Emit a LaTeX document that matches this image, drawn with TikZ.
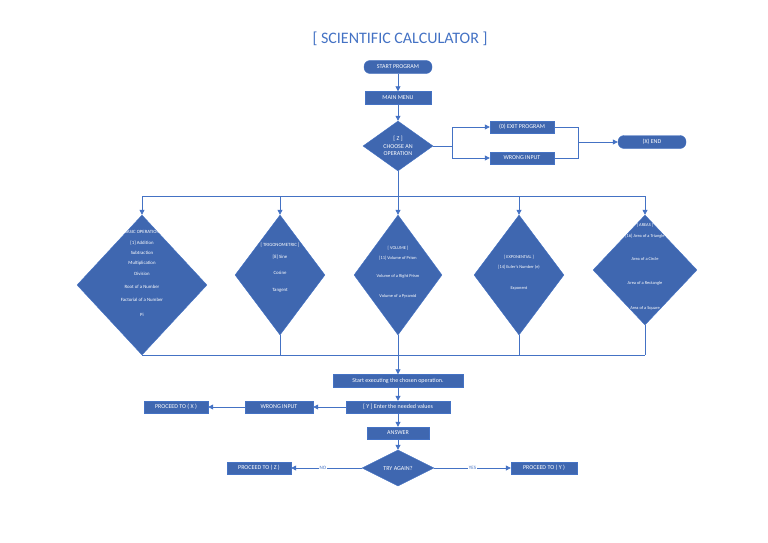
\documentclass[tikz,border=0pt]{standalone}
\usepackage{fontspec}
\setmainfont{Carlito}
\usetikzlibrary{shapes.geometric,arrows.meta}
\definecolor{ln}{HTML}{4472C4}
\definecolor{fl}{HTML}{3F67B0}
\begin{document}
\begin{tikzpicture}[x=1pt,y=-1pt,
 box/.style={draw=ln,fill=fl,text=white,minimum height=12pt,inner sep=0pt,font=\fontsize{6}{7}\selectfont},
 pill/.style={box,rounded corners=6pt},
 dia/.style={diamond,draw=ln,fill=fl,text=white,inner sep=0pt,align=center,font=\fontsize{4.6}{5.8}\selectfont},
 ar/.style={draw=ln,line width=0.8pt,-{Triangle[length=5pt,width=5pt]}},
 ln/.style={draw=ln,line width=0.8pt}]
\useasboundingbox (0,0) rectangle (768,543);
\node[text=ln,font=\fontsize{16}{18}\selectfont] (title) at (400,39) {[ SCIENTIFIC CALCULATOR ]};
\node[pill,minimum width=68pt,minimum height=13pt] (start) at (398,67) {START PROGRAM};
\node[box,minimum width=66pt,minimum height=13pt] (menu) at (398,98) {MAIN MENU};
\node[dia,minimum width=70pt,minimum height=50pt,font=\fontsize{6}{7.5}\selectfont] (z) at (398,146) {};
\node[text=white,align=center,font=\fontsize{6}{7.5}\selectfont] at (398,146) {[ Z ]\\CHOOSE AN\\OPERATION};
\node[box,minimum width=64pt] (exit) at (522,127) {(0) EXIT PROGRAM};
\node[box,minimum width=64pt] (wi1) at (522,158) {WRONG INPUT};
\node[pill,minimum width=68pt,minimum height=13pt] (end) at (652,142) {(X) END};
\draw[ar] (start) -- (menu);
\draw[ar] (menu) -- (z);
\coordinate (s1) at (452,146);
\draw[ln] (z.east) -- (s1);
\draw[ar] (s1) |- (exit.west);
\draw[ar] (s1) |- (wi1.west);
\coordinate (j1) at (578,142);
\draw[ln] (exit.east) -| (j1);
\draw[ln] (wi1.east) -| (j1);
\draw[ar] (j1) -- (end.west);
% diamonds
\node[dia,minimum width=130pt,minimum height=140pt] (d1) at (142,285) {};
\node[text=white,align=center,font=\fontsize{4.8}{7.4}\selectfont] at (142,273) {[ BASIC OPERATION ]\\[4pt][1] Addition\\[2] Subtraction\\[3] Multiplication\\[4] Division\\[5] Root of a Number\\[6] Factorial of a Number\\[7] Pi};
\node[dia,minimum width=90pt,minimum height=120pt] (d2) at (280,275) {};
\node[text=white,align=center,font=\fontsize{4.8}{7.4}\selectfont] at (280,268) {[ TRIGONOMETRIC ]\\[4pt][8] Sine\\[9] Cosine\\[10] Tangent};
\node[dia,minimum width=88pt,minimum height=120pt] (d3) at (398,275) {};
\node[text=white,align=center,font=\fontsize{4.4}{6.2}\selectfont] at (398,272) {[ VOLUME ]\\[4pt][11] Volume of Prism\\[12] Volume of a Right Prism\\[13] Volume of a Pyramid};
\node[dia,minimum width=90pt,minimum height=120pt] (d4) at (519,275) {};
\node[text=white,align=center,font=\fontsize{4.4}{6.2}\selectfont] at (519,273) {[ EXPONENTIAL ]\\[4pt][14] Euler's Number (e)\\[15] Exponent};
\node[dia,minimum width=104pt,minimum height=110pt] (d5) at (645,270) {};
\node[text=white,align=center,font=\fontsize{4.4}{6.2}\selectfont] at (645,267) {[ AREAS ]\\[4pt][16] Area of a Triangle\\[17] Area of a Circle\\[18] Area of a Rectangle\\[19] Area of a Square};
\coordinate (t0) at (398,196);
\draw[ln] (z.south) -- (t0);
\draw[ln] (142,196) -- (645,196);
\foreach \d/\x in {d1/142,d2/280,d3/398,d4/519,d5/645}{
  \coordinate (t\d) at (\x,196);
  \draw[ar] (t\d) -- (\d.north);
  \coordinate (b\d) at (\x,355);
  \draw[ln] (\d.south) -- (b\d);
}
\draw[ln] (bd1) -- (bd5);
\node[box,minimum width=130pt,minimum height=13pt] (exec) at (398,381) {Start executing the chosen operation.};
\draw[ar] (bd3) -- (exec);
\node[box,minimum width=104pt] (y) at (398,407) {[ Y ] Enter the needed values};
\node[box,minimum width=68pt] (wi2) at (279,407) {WRONG INPUT};
\node[box,minimum width=64pt] (px) at (176,407) {PROCEED TO ( X )};
\node[box,minimum width=62pt] (ans) at (398,433) {ANSWER};
\node[dia,minimum width=72pt,minimum height=36pt,font=\fontsize{6}{7}\selectfont] (try) at (398,468) {TRY AGAIN?};
\node[box,minimum width=64pt] (pz) at (259,468) {PROCEED TO ( Z )};
\node[box,minimum width=66pt] (py) at (544,468) {PROCEED TO ( Y )};
\draw[ar] (exec) -- (y);
\draw[ar] (y) -- (wi2);
\draw[ar] (wi2) -- (px);
\draw[ar] (y) -- (ans);
\draw[ar] (ans) -- (try);
\draw[ar] (try) -- node[fill=white,text=ln,font=\fontsize{5}{6}\selectfont,inner sep=1pt,pos=0.55]{NO} (pz);
\draw[ar] (try) -- node[fill=white,text=ln,font=\fontsize{5}{6}\selectfont,inner sep=1pt,pos=0.5]{YES} (py);
\end{tikzpicture}
\end{document}
